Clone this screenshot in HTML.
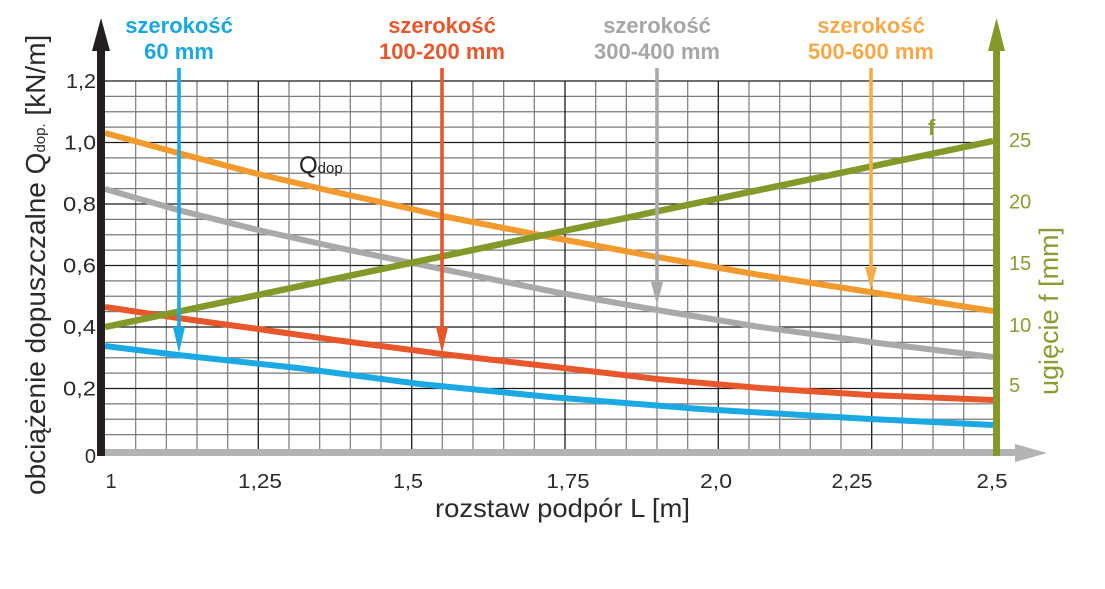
<!DOCTYPE html>
<html><head><meta charset="utf-8"><style>
html,body{margin:0;padding:0;background:#fff;}
svg{display:block;font-family:"Liberation Sans",Arial,sans-serif;}
</style></head><body>
<svg width="1105" height="589" viewBox="0 0 1105 589" xmlns="http://www.w3.org/2000/svg">
<rect width="1105" height="589" fill="#fff"/>
<!-- minor grid -->
<path fill="none" stroke="#7a7a7a" stroke-width="1.2" d="
M135.7 81V449 M166.3 81V449 M197 81V449 M227.7 81V449
M289 81V449 M319.7 81V449 M350.3 81V449 M381 81V449
M442.3 81V449 M473 81V449 M503.7 81V449 M534.3 81V449
M595.7 81V449 M626.3 81V449 M657 81V449 M687.7 81V449
M749 81V449 M779.7 81V449 M810.3 81V449 M841 81V449
M902.3 81V449 M933 81V449 M963.7 81V449
M105 96.4H994 M105 111.75H994 M105 127.1H994
M105 157.9H994 M105 173.25H994 M105 188.6H994
M105 219.4H994 M105 234.75H994 M105 250.1H994
M105 280.9H994 M105 296.25H994 M105 311.6H994
M105 342.4H994 M105 357.75H994 M105 373.1H994
M105 403.9H994 M105 419.25H994 M105 434.6H994"/>
<!-- major grid -->
<path fill="none" stroke="#1a1a1a" stroke-width="1.3" d="
M258.3 81V449 M411.7 81V449 M565 81V449 M718.3 81V449 M871.7 81V449
M105 81H994 M105 142.5H994 M105 204H994 M105 265.5H994 M105 327H994 M105 388.5H994"/>

<!-- curves -->
<g fill="none" stroke-width="6" stroke-linejoin="round" stroke-linecap="butt">
<polyline stroke="#a9a9a9" points="105,189 178,210 258,230 335,247 412,263 555,292 657,310 760,327 870,342 993,357"/>
<polyline stroke="#e8572b" points="105,307 178,318 258,329 335,340 412,350 442,354 555,367 657,379 760,388 870,395 993,400"/>
<polyline stroke="#1aa9e2" points="105,346 178,355 298,368 420,384 550,397 700,409 870,419 993,425"/>
<polyline stroke="#f39a2e" points="105,133 178,153 258,174 335,192 412,209 442,216 555,238 657,257 760,275 870,292 993,311"/>
<line stroke="#839a2b" stroke-width="6.5" x1="105" y1="327" x2="993" y2="141"/>
</g>

<!-- indicator arrows -->
<g stroke-width="3.6">
<line x1="179" y1="68" x2="179" y2="330" stroke="#1aa9e2"/>
<polygon points="173,327 185,327 179,353" fill="#1aa9e2"/>
<line x1="442" y1="68" x2="442" y2="330" stroke="#e8572b"/>
<polygon points="436,327 448,327 442,353" fill="#e8572b"/>
<line x1="657" y1="68" x2="657" y2="285" stroke="#a9a9a9"/>
<polygon points="651,282 663,282 657,305" fill="#a9a9a9"/>
<line x1="871" y1="68" x2="871" y2="270" stroke="#f5ae4c"/>
<polygon points="865,267 877,267 871,290" fill="#f5ae4c"/>
</g>

<!-- axes -->
<rect x="105" y="449" width="910" height="7" fill="#b3b3b3"/>
<polygon points="1015,444 1015,462 1047,453" fill="#b3b3b3"/>
<rect x="993" y="48" width="7" height="408" fill="#83992a"/>
<polygon points="988,51 1005,51 996.5,18" fill="#83992a"/>
<rect x="97" y="48" width="8" height="408" fill="#231f20"/>
<polygon points="92,51 110,51 101,18" fill="#231f20"/>

<!-- top labels -->
<g font-weight="bold" font-size="22" text-anchor="middle">
<text x="179" y="33" fill="#1aa7df">szerokość</text>
<text x="179" y="59" fill="#1aa7df">60 mm</text>
<text x="442" y="33" fill="#e5582e">szerokość</text>
<text x="442" y="59" fill="#e5582e">100-200 mm</text>
<text x="657" y="33" fill="#a6a6a6">szerokość</text>
<text x="657" y="59" fill="#a6a6a6">300-400 mm</text>
<text x="871" y="33" fill="#f5a94b">szerokość</text>
<text x="871" y="59" fill="#f5a94b">500-600 mm</text>
</g>

<!-- Q dop label -->
<text x="299" y="173" font-size="24" fill="#222">Q<tspan font-size="15">dop</tspan></text>
<!-- f label -->
<text x="928" y="135" font-size="22" font-weight="bold" fill="#8a9c2e">f</text>

<!-- left tick labels -->
<g font-size="20" fill="#2a2a2a" text-anchor="end" lengthAdjust="spacingAndGlyphs">
<text x="96" y="88" textLength="30" lengthAdjust="spacingAndGlyphs">1,2</text>
<text x="96" y="149.5" textLength="32" lengthAdjust="spacingAndGlyphs">1,0</text>
<text x="96" y="211" textLength="33" lengthAdjust="spacingAndGlyphs">0,8</text>
<text x="96" y="272.5" textLength="33" lengthAdjust="spacingAndGlyphs">0,6</text>
<text x="96" y="334" textLength="33" lengthAdjust="spacingAndGlyphs">0,4</text>
<text x="96" y="395.5" textLength="33" lengthAdjust="spacingAndGlyphs">0,2</text>
<text x="96" y="463">0</text>
</g>

<!-- right tick labels -->
<g font-size="20" fill="#8a9c35">
<text x="1009" y="147">25</text>
<text x="1009" y="208.5">20</text>
<text x="1009" y="270">15</text>
<text x="1009" y="332">10</text>
<text x="1009" y="392">5</text>
</g>

<!-- bottom tick labels -->
<g font-size="20" fill="#2a2a2a" text-anchor="middle">
<text x="111" y="488">1</text>
<text x="260" y="488" textLength="44" lengthAdjust="spacingAndGlyphs">1,25</text>
<text x="408" y="488" textLength="30" lengthAdjust="spacingAndGlyphs">1,5</text>
<text x="568" y="488" textLength="43" lengthAdjust="spacingAndGlyphs">1,75</text>
<text x="716" y="488" textLength="32" lengthAdjust="spacingAndGlyphs">2,0</text>
<text x="852" y="488" textLength="41" lengthAdjust="spacingAndGlyphs">2,25</text>
<text x="992" y="488" textLength="31" lengthAdjust="spacingAndGlyphs">2,5</text>
</g>

<!-- axis titles -->
<text x="562.5" y="517" font-size="26" fill="#2a2a2a" text-anchor="middle" textLength="255" lengthAdjust="spacingAndGlyphs">rozstaw podpór L [m]</text>
<text transform="translate(45,495) rotate(-90)" font-size="28" fill="#2a2a2a">obciążenie dopuszczalne Q<tspan font-size="15">dop.</tspan> [kN/m]</text>
<text transform="translate(1058,395) rotate(-90)" font-size="27" fill="#8a9c35">ugięcie f [mm]</text>
</svg>
</body></html>
